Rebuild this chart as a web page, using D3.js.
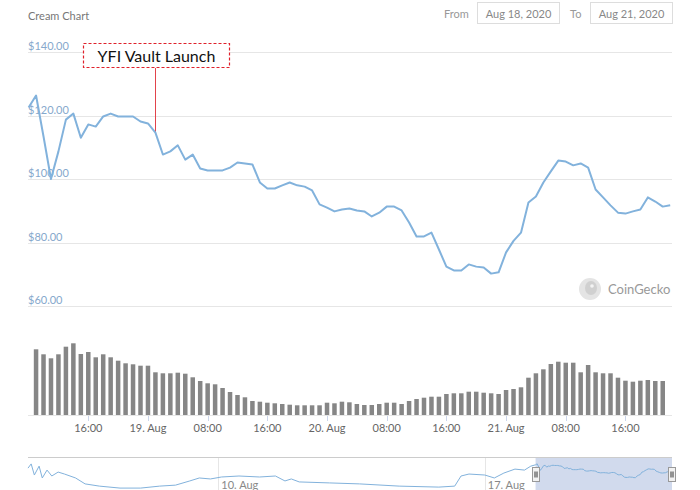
<!DOCTYPE html>
<html><head><meta charset="utf-8">
<script src="https://cdn.jsdelivr.net/npm/d3@7"></script>
<style>html,body{margin:0;padding:0;background:#fff;}svg{display:block;font-family:Lato,"Open Sans",sans-serif;}</style>
</head><body>
<svg id="c" width="700" height="490"></svg>
<script>
// ---------- DATA ----------
const chartTitle = "Cream Chart";
const fromLabel = "Aug 18, 2020";
const toLabel = "Aug 21, 2020";
const lineStart = "2020-08-18T08:00:00Z";   // hourly price points
const priceValues = [122.5,126.3,113.4,100.0,108.7,118.7,120.6,113.0,117.2,116.5,119.7,120.6,119.7,119.7,119.7,118.1,
  117.5,114.6,107.7,108.7,110.6,106.1,107.7,103.3,102.7,102.7,102.7,103.6,105.2,104.9,104.6,98.9,97.0,97.0,98.0,98.9,98.0,97.6,96.4,92.0,
  91.0,89.8,90.4,90.7,90.1,89.8,88.2,89.4,91.3,91.3,90.1,86.3,81.9,81.9,83.1,77.8,72.4,71.2,71.2,73.1,72.4,72.1,70.2,70.6,
  76.9,80.5,83.1,92.6,94.5,98.9,102.4,105.8,105.5,104.3,104.9,103.6,96.7,94.2,91.7,89.4,89.1,89.8,90.4,94.2,92.9,91.3,91.7];
const volumeStart = "2020-08-18T09:00:00Z";  // hourly volume bars
const volumeValues = [65.7,60.7,56.7,60.7,68.3,71.7,61,63,57.7,60.7,57.7,54.3,51.7,50.7,49.3,
  49.3,42.7,41.7,41.7,42.3,41.3,37.7,34,31.7,30.7,27,23,20,17.7,14,13.3,12.3,11.7,11,10.3,9.7,9.7,9.7,9.7,
  12.3,11.7,13.3,12.7,11,10,10,11,12.3,12.3,11,14,16,17.3,18.3,18.3,21,21.7,21.7,23.3,23.3,22.3,21.7,21,
  25,26,27.7,37.3,41.7,45.7,51,53.3,52.3,52.3,42.7,50,42.7,41.7,41.7,37.3,34.3,33.3,34.3,35,34,34];
const yTicks = [60,80,100,120,140];
const annotationText = "YFI Vault Launch";
const annotationTime = "2020-08-19T01:00:00Z";
// navigator (longer history)
const navTimes = ["2020-08-05T00:00Z","2020-08-05T02:00Z","2020-08-05T04:00Z","2020-08-05T07:00Z","2020-08-05T09:00Z","2020-08-05T12:00Z",
  "2020-08-05T15:00Z","2020-08-05T19:00Z","2020-08-05T23:00Z","2020-08-06T06:00Z","2020-08-06T12:00Z","2020-08-06T21:00Z","2020-08-07T10:00Z",
  "2020-08-07T23:00Z","2020-08-08T11:00Z","2020-08-08T21:00Z","2020-08-09T06:00Z","2020-08-09T12:00Z","2020-08-09T19:00Z","2020-08-10T02:00Z",
  "2020-08-10T13:00Z","2020-08-11T02:00Z","2020-08-11T12:00Z","2020-08-11T18:00Z","2020-08-11T22:00Z","2020-08-12T03:00Z","2020-08-12T22:00Z",
  "2020-08-13T17:00Z","2020-08-14T18:00Z","2020-08-15T19:00Z","2020-08-16T05:00Z","2020-08-16T09:00Z","2020-08-16T14:00Z","2020-08-17T00:00Z",
  "2020-08-17T06:00Z","2020-08-17T12:00Z","2020-08-17T19:00Z","2020-08-18T01:00Z","2020-08-18T05:00Z"];
const navValues = [109,126,81,117,69,101,77,93,85,69,45,36,28,28,36,40,57,69,65,73,77,73,77,57,65,53,49,45,36,32,36,77,85,81,69,89,105,101,117];
const navLabels = ["10. Aug","17. Aug"];

// ---------- SETUP ----------
const svg = d3.select("#c");
const parse = s => new Date(s);
const hourly = (start, n) => d3.range(n).map(i => d3.utcHour.offset(parse(start), i));
const priceData = hourly(lineStart, priceValues.length).map((t,i)=>({t, v:priceValues[i]}));
const volData = hourly(volumeStart, volumeValues.length).map((t,i)=>({t, v:volumeValues[i]}));

const L = 28, R = 672;
const x = d3.scaleUtc().domain([parse(lineStart), priceData[priceData.length-1].t]).range([28.6, 670.2]);
const y = d3.scaleLinear().domain([60,140]).range([306,52]);
const yv = d3.scaleLinear().domain([0,75]).range([415,340]);

// title & range selector
svg.append("text").attr("x",28).attr("y",20).attr("fill","#777").attr("font-size",11).text(chartTitle);
svg.append("text").attr("x",444).attr("y",18).attr("fill","#999").attr("font-size",11).text("From");
svg.append("rect").attr("x",477.5).attr("y",2.5).attr("width",82).attr("height",21).attr("fill","#fff").attr("stroke","#ddd");
svg.append("text").attr("x",518.5).attr("y",18).attr("text-anchor","middle").attr("fill","#888").attr("font-size",11).text(fromLabel);
svg.append("text").attr("x",570).attr("y",18).attr("fill","#999").attr("font-size",11).text("To");
svg.append("rect").attr("x",590.5).attr("y",2.5).attr("width",82).attr("height",21).attr("fill","#fff").attr("stroke","#ddd");
svg.append("text").attr("x",631.5).attr("y",18).attr("text-anchor","middle").attr("fill","#888").attr("font-size",11).text(toLabel);

// gridlines + y labels
const yg = svg.append("g");
yg.selectAll("line").data(yTicks).join("line")
  .attr("x1",L).attr("x2",R).attr("y1",d=>Math.round(y(d))+0.5).attr("y2",d=>Math.round(y(d))+0.5)
  .attr("stroke","#e6e6e6");
yg.selectAll("text").data(yTicks).join("text")
  .attr("x",28).attr("y",d=>y(d)-2).attr("fill","#86a8cc").attr("font-size",11)
  .text(d=>"$"+d3.format(".2f")(d));

// CoinGecko watermark
const wm = svg.append("g").attr("transform","translate(590,289)");
wm.append("circle").attr("r",11).attr("fill","#e4e4e4");
wm.append("ellipse").attr("cx",1).attr("cy",-1).attr("rx",6).attr("ry",7).attr("fill","#d0d0d0");
wm.append("circle").attr("cx",2).attr("cy",-3).attr("r",1.8).attr("fill","#f4f4f4");
svg.append("text").attr("x",608).attr("y",294).attr("fill","#999").attr("font-size",13).text("CoinGecko");

// annotation
const ax = x(parse(annotationTime));
const apt = priceData.find(d=>+d.t===+parse(annotationTime));
svg.append("line").attr("x1",Math.round(ax)+0.5).attr("x2",Math.round(ax)+0.5).attr("y1",68).attr("y2",y(apt.v))
  .attr("stroke","#e2434b").attr("stroke-width",1);
svg.append("rect").attr("x",83.5).attr("y",43.5).attr("width",146).attr("height",24)
  .attr("fill","#fff").attr("stroke","#e0202a").attr("stroke-width",1.2).attr("stroke-dasharray","3,2");
svg.append("text").attr("x",156.5).attr("y",62).attr("text-anchor","middle").attr("font-size",16).attr("fill","#111").text(annotationText);

// price line
svg.append("path").datum(priceData)
  .attr("d", d3.line().x(d=>x(d.t)).y(d=>y(d.v)))
  .attr("fill","none").attr("stroke","#82b2dc").attr("stroke-width",2).attr("stroke-linejoin","round");

// volume bars
svg.append("g").selectAll("rect").data(volData).join("rect")
  .attr("x",d=>x(d.t)-2.25).attr("width",4.5)
  .attr("y",d=>yv(d.v)).attr("height",d=>yv(0)-yv(d.v)).attr("fill","#868686");
svg.append("line").attr("x1",L).attr("x2",R).attr("y1",415.5).attr("y2",415.5).attr("stroke","#e6e6e6");

// x axis
const xt = x.ticks(d3.utcHour.every(8)).filter(t => x(t) > 40 && x(t) < R);
const fmt = t => t.getUTCHours()===0 ? d3.utcFormat("%-d. %b")(t) : d3.utcFormat("%H:%M")(t);
const xa = svg.append("g");
xa.selectAll("line").data(xt).join("line")
  .attr("x1",d=>Math.round(x(d))+0.5).attr("x2",d=>Math.round(x(d))+0.5).attr("y1",416).attr("y2",421).attr("stroke","#ccd6eb");
xa.selectAll("text").data(xt).join("text")
  .attr("x",d=>x(d)).attr("y",432).attr("text-anchor","middle").attr("fill","#666").attr("font-size",11).text(fmt);

// navigator
const nx = d3.scaleUtc().domain([parse("2020-08-05T00:00Z"), priceData[priceData.length-1].t]).range([L, R]);
const ny = d3.scaleLinear().domain([0,150]).range([495,458]);
const navData = navTimes.map((s,i)=>({t:parse(s), v:navValues[i]})).concat(priceData);
const nav = svg.append("g");
nav.append("line").attr("x1",L).attr("x2",R).attr("y1",457.5).attr("y2",457.5).attr("stroke","#ccc");
const navTicks = [parse("2020-08-10T00:00Z"), parse("2020-08-17T00:00Z")];
nav.selectAll("line.g").data(navTicks).join("line").attr("class","g")
  .attr("x1",d=>Math.round(nx(d))+0.5).attr("x2",d=>Math.round(nx(d))+0.5).attr("y1",458).attr("y2",490).attr("stroke","#e6e6e6");
nav.selectAll("text").data(navTicks).join("text")
  .attr("x",d=>nx(d)+3).attr("y",489).attr("fill","#888").attr("font-size",11).text((d,i)=>navLabels[i]);
const mx0 = nx(parse(lineStart)), mx1 = nx(priceData[priceData.length-1].t);
nav.append("rect").attr("x",mx0).attr("y",458).attr("width",mx1-mx0).attr("height",40).attr("fill","rgba(102,133,194,0.3)");
nav.append("path").datum(navData)
  .attr("d", d3.line().x(d=>nx(d.t)).y(d=>ny(d.v)))
  .attr("fill","none").attr("stroke","#82b2dc").attr("stroke-width",1);
[mx0, mx1].forEach(hx=>{
  const g = nav.append("g").attr("transform",`translate(${Math.round(hx)-3.5},${467.5})`);
  g.append("rect").attr("width",7).attr("height",14).attr("fill","#f2f2f2").attr("stroke","#999");
  g.append("line").attr("x1",2.5).attr("x2",2.5).attr("y1",4).attr("y2",10).attr("stroke","#333");
  g.append("line").attr("x1",4.5).attr("x2",4.5).attr("y1",4).attr("y2",10).attr("stroke","#333");
});
</script>
</body></html>
